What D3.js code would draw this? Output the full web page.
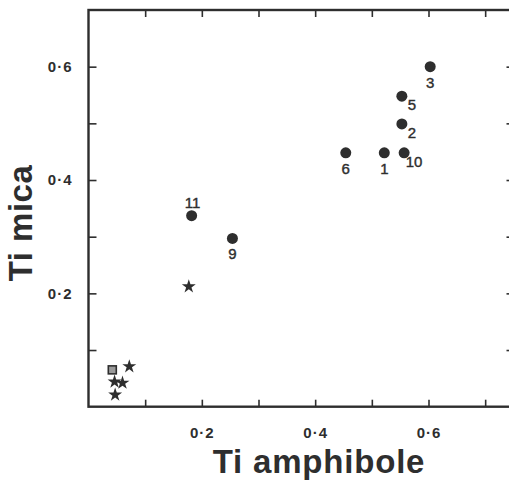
<!DOCTYPE html>
<html>
<head>
<meta charset="utf-8">
<script src="https://cdn.jsdelivr.net/npm/d3@7"></script>
<style>
  html, body { margin: 0; padding: 0; background: #fff; }
  svg { display: block; font-family: "Liberation Sans", Arial, sans-serif; }
</style>
</head>
<body>
<div id="chart"></div>
<script>
// numbered samples (filled circles)
const sampleIds = ['3', '5', '2', '6', '1', '10', '11', '9'];
const sampleAmph = [0.603, 0.553, 0.553, 0.454, 0.522, 0.557, 0.182, 0.254];
const sampleMica = [0.600, 0.548, 0.499, 0.448, 0.448, 0.448, 0.337, 0.297];
// where the number sits relative to its dot
const sampleLabelPos = ['below', 'belowRight', 'belowRight', 'below', 'below', 'belowRight', 'above', 'below'];

// unnumbered samples (stars)
const starAmph = [0.177, 0.072, 0.046, 0.060, 0.047];
const starMica = [0.212, 0.071, 0.044, 0.042, 0.021];

// single square
const squareAmph = [0.042];
const squareMica = [0.065];

const xTicks = [0.1, 0.2, 0.3, 0.4, 0.5, 0.6, 0.7];
const yTicks = [0.1, 0.2, 0.3, 0.4, 0.5, 0.6];
const labelledTicks = [0.2, 0.4, 0.6];

const width = 509, height = 483;
const ink = '#2e2e2e';

const x = d3.scaleLinear().domain([0, 0.75]).range([88.5, 513.5]);
const y = d3.scaleLinear().domain([0, 0.7]).range([406.7, 10]);

const svg = d3.select('#chart').append('svg')
    .attr('width', width)
    .attr('height', height);

const fmt = v => labelledTicks.some(t => Math.abs(t - v) < 1e-9) ? d3.format('.1f')(v).replace('.', '·') : '';

function styleAxis(g) {
  g.select('.domain').remove();
  g.selectAll('.tick line').attr('stroke', ink).attr('stroke-width', 1.6);
  g.selectAll('.tick text')
      .attr('fill', ink)
      .attr('font-size', '15px')
      .attr('font-weight', 'bold')
      .attr('letter-spacing', '1px');
}

svg.append('g')
    .attr('transform', `translate(0,${y(0)})`)
    .call(d3.axisBottom(x).tickValues(xTicks).tickSize(-7).tickPadding(21).tickFormat(fmt))
    .call(styleAxis);

svg.append('g')
    .attr('transform', `translate(0,${y(0.7)})`)
    .call(d3.axisTop(x).tickValues(xTicks).tickSize(-7).tickFormat(''))
    .call(styleAxis);

svg.append('g')
    .attr('transform', `translate(${x(0)},0)`)
    .call(d3.axisLeft(y).tickValues(yTicks).tickSize(-8).tickPadding(16).tickFormat(fmt))
    .call(styleAxis);

svg.append('g')
    .attr('transform', `translate(${x(0.75)},0)`)
    .call(d3.axisRight(y).tickValues(yTicks).tickSize(-7).tickFormat(''))
    .call(styleAxis);

// frame
svg.append('rect')
    .attr('x', x(0))
    .attr('y', y(0.7))
    .attr('width', x(0.75) - x(0))
    .attr('height', y(0) - y(0.7))
    .attr('fill', 'none')
    .attr('stroke', ink)
    .attr('stroke-width', 2.4);

// axis titles
svg.append('text')
    .attr('x', 319)
    .attr('y', 473)
    .attr('text-anchor', 'middle')
    .attr('font-size', '33px')
    .attr('font-weight', 'bold')
    .attr('letter-spacing', '0.8px')
    .attr('fill', ink)
    .text('Ti amphibole');

svg.append('text')
    .attr('transform', 'translate(32,223) rotate(-90)')
    .attr('text-anchor', 'middle')
    .attr('font-size', '33px')
    .attr('font-weight', 'bold')
    .attr('letter-spacing', '0.5px')
    .attr('fill', ink)
    .text('Ti mica');

// circles
const samples = sampleIds.map((id, i) => ({ id, ax: sampleAmph[i], mi: sampleMica[i], pos: sampleLabelPos[i] }));
const offsets = { below: [0, 21], belowRight: [10, 14], above: [1, -8] };

svg.append('g')
  .selectAll('circle')
  .data(samples)
  .join('circle')
    .attr('cx', d => x(d.ax))
    .attr('cy', d => y(d.mi))
    .attr('r', 5.5)
    .attr('fill', ink);

svg.append('g')
  .selectAll('text')
  .data(samples)
  .join('text')
    .attr('x', d => x(d.ax) + offsets[d.pos][0])
    .attr('y', d => y(d.mi) + offsets[d.pos][1])
    .attr('text-anchor', d => d.pos === 'belowRight' && d.id !== '10' ? 'start' : 'middle')
    .attr('dx', d => d.pos === 'belowRight' && d.id !== '10' ? -4 : 0)
    .attr('font-size', '15px')
    .attr('fill', ink)
    .attr('stroke', ink)
    .attr('stroke-width', 0.4)
    .text(d => d.id);

// stars
const star = d3.symbol().type(d3.symbolStar).size(60);
svg.append('g')
  .selectAll('path')
  .data(starAmph.map((ax, i) => ({ ax, mi: starMica[i] })))
  .join('path')
    .attr('transform', d => `translate(${x(d.ax)},${y(d.mi)})`)
    .attr('d', star)
    .attr('fill', ink);

// square
svg.append('g')
  .selectAll('rect')
  .data(squareAmph.map((ax, i) => ({ ax, mi: squareMica[i] })))
  .join('rect')
    .attr('x', d => x(d.ax) - 4)
    .attr('y', d => y(d.mi) - 4)
    .attr('width', 8)
    .attr('height', 8)
    .attr('fill', '#9a9a9a')
    .attr('stroke', ink)
    .attr('stroke-width', 1.6);
</script>
</body>
</html>
